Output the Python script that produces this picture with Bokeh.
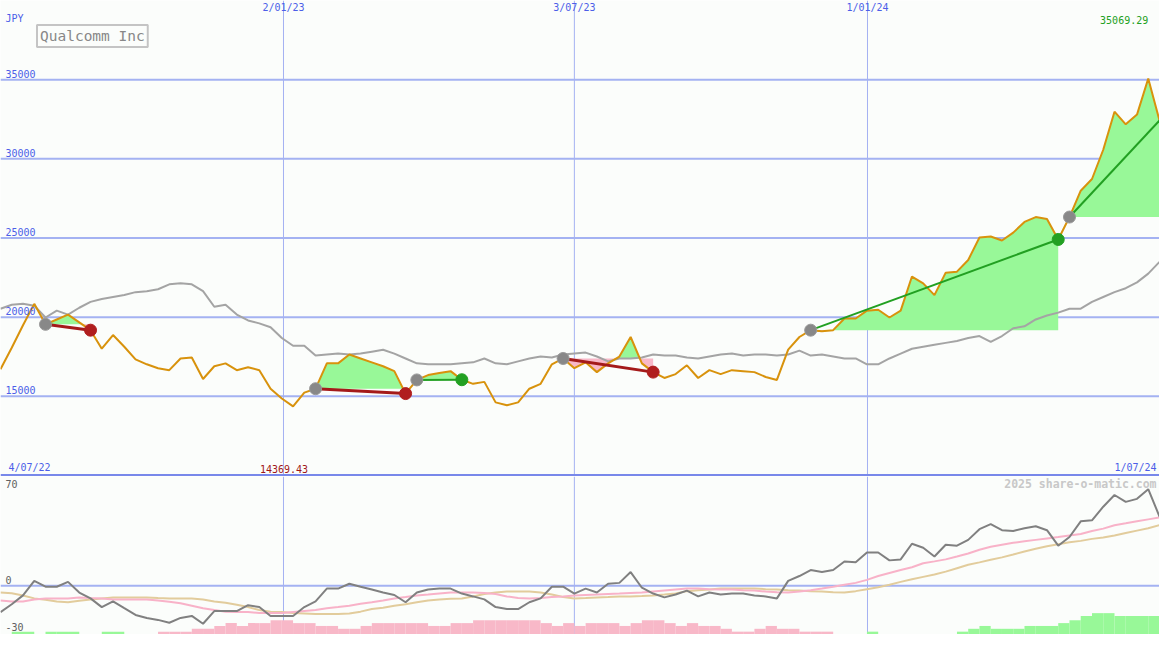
from bokeh.plotting import figure
from bokeh.models import Range1d, Span, Label
from bokeh.layouts import column
from bokeh.embed import file_html
from bokeh.resources import INLINE

# ---------------- data ----------------
price = [16715, 18070, 19487, 20842, 19548, 19856, 20164, 19671, 19179, 18008,
         18871, 18131, 17330, 17023, 16776, 16653, 17392, 17454, 16098, 16899,
         17084, 16653, 16838, 16653, 15482, 14866, 14369.43, 15236, 15482, 17084,
         17084, 17639, 17392, 17146, 16899, 16592, 15175, 16037, 16345, 16468,
         16592, 16050, 15791, 15914, 14620, 14435, 14620, 15482, 15791, 17023,
         17392, 16776, 17146, 16530, 17084, 17515, 18748, 17084, 16530, 16160,
         16407, 16961, 16160, 16653, 16407, 16653, 16592, 16530, 16222, 16037,
         17947, 18748, 19179, 19117, 19179, 19918, 19918, 20411, 20472, 19980,
         20411, 22567, 22136, 21396, 22813, 22875, 23614, 25031, 25092, 24846,
         25339, 26016, 26324, 26201, 24908, 26324, 27988, 28727, 30575, 32977,
         32177, 32793, 35069.29, 32423]

bench = [20534, 20781, 20842, 20719, 19980, 20411, 20164, 20596, 20965, 21150,
         21273, 21396, 21581, 21643, 21766, 22074, 22136, 22074, 21643, 20657,
         20781, 20164, 19795, 19610, 19364, 18686, 18193, 18193, 17577, 17639,
         17700, 17639, 17700, 17823, 17947, 17700, 17392, 17084, 17023, 17023,
         17023, 17084, 17146, 17392, 17084, 17023, 17207, 17392, 17515, 17454,
         17639, 17700, 17762, 17515, 17207, 17392, 17392, 17454, 17639, 17577,
         17577, 17454, 17392, 17515, 17639, 17700, 17577, 17639, 17639, 17577,
         17639, 17885, 17577, 17639, 17515, 17392, 17392, 17023, 17023, 17392,
         17700, 18008, 18131, 18254, 18378, 18501, 18686, 18809, 18439, 18809,
         19302, 19425, 19856, 20102, 20287, 20534, 20534, 20965, 21273, 21581,
         21828, 22197, 22752, 23491]

osc = [-18.5, -13, -6.8, 3.4, -0.7, -0.7, 2.7, -4.8, -8.9, -15,
       -11, -15.8, -20.5, -22.6, -24, -26, -22.6, -21.2, -26.7, -17.8,
       -17.8, -17.8, -13.7, -15, -21.2, -21.2, -21.2, -15, -11, -2,
       -2, 1.4, -0.7, -2.7, -4.8, -6.5, -11.6, -4.8, -2.7, -2,
       -2, -5.5, -7.5, -9.6, -15, -16.4, -16.4, -11.6, -8.9, -0.7,
       -0.7, -5.5, -2, -4.8, 1.4, 2, 9.6, -1.4, -5.5, -8.2,
       -6.2, -3.4, -7.5, -4.8, -6.2, -5.5, -5.5, -6.8, -7.5, -8.9,
       3.4, 6.8, 11, 9.6, 11, 17, 16.4, 23.3, 23.3, 17.8,
       18.5, 29.5, 26.7, 20.5, 28.8, 28.1, 32.2, 39.7, 43.2, 39,
       38.4, 40.4, 41.8, 39, 28.1, 34.2, 45.2, 45.9, 55.5, 63.7,
       58.9, 61, 67.8, 48.6]

sig_pink = [-10.3, -11, -11, -9.6, -8.9, -8.9, -8.9, -8.2, -8.6, -8.9,
            -9.6, -9.6, -9.6, -9.6, -10.3, -11.3, -12.3, -14, -15.8, -17.1,
            -18.2, -18.5, -18.5, -19.2, -19.2, -19.2, -18.5, -17.8, -17.1, -15.8,
            -15, -14, -12.7, -11.6, -10.3, -8.9, -7.9, -6.8, -6.2, -5.5,
            -4.8, -4.8, -4.8, -5.1, -5.8, -7.5, -8.6, -8.9, -8.6, -7.9,
            -7.5, -6.8, -6.5, -6.2, -5.8, -5.5, -5.1, -4.8, -4.1, -3.4,
            -2.7, -2, -2, -2.4, -2.7, -2.7, -3.1, -3.4, -4.1, -4.5,
            -4.8, -4.1, -3.1, -2, -0.7, 0.7, 2, 4.1, 6.8, 8.9,
            11, 13, 15.8, 17.1, 18.5, 20.5, 22.6, 25.3, 27.4, 28.8,
            30.1, 31.2, 32.2, 33.2, 34.2, 35.3, 36.3, 38.4, 40.1, 42.5,
            43.8, 45.2, 46.6, 47.9]

sig_tan = [-4.8, -5.3, -6.8, -8.9, -9.9, -11, -11.6, -10.6, -9.6, -8.9,
           -8.2, -8.2, -8.2, -8.2, -8.6, -8.9, -8.9, -8.9, -9.6, -11,
           -12, -13.4, -15, -17.1, -18.2, -18.5, -19.2, -19.5, -19.9, -19.9,
           -19.9, -19.5, -18.2, -16.4, -15.4, -14, -13, -11.6, -10.3, -9.6,
           -9.2, -8.9, -7.5, -5.8, -4.8, -4.1, -4.1, -4.1, -4.8, -6.2,
           -7.9, -8.9, -8.6, -8.2, -7.9, -7.5, -7.5, -7.2, -6.8, -6.2,
           -5.5, -3.8, -3.1, -2.7, -2, -2, -2, -2, -2.4, -2.7,
           -3.1, -3.4, -3.8, -4.1, -4.5, -4.8, -3.8, -2.4, -1, 0.7,
           2.7, 4.5, 6.2, 7.9, 9.9, 12.3, 14.7, 16.4, 18.2, 19.9,
           21.9, 24, 26, 27.7, 29.1, 30.5, 31.5, 32.9, 33.9, 35.3,
           37, 38.7, 40.4, 42.5]

hist = [0, 2, 2, 0, 2, 2, 2, 0, 0, 2,
        2, 0, 0, 0, -2, -2, -2, -4, -4, -6,
        -8, -6, -8, -8, -10, -10, -8, -8, -6, -6,
        -4, -4, -6, -8, -8, -8, -8, -8, -6, -6,
        -8, -8, -10, -10, -10, -10, -10, -10, -8, -6,
        -8, -6, -8, -8, -8, -6, -8, -10, -10, -8,
        -6, -8, -6, -6, -4, -2, -2, -4, -6, -4,
        -4, -2, -2, -2, 0, 0, 0, 2, 0, 0,
        0, 0, 0, 0, 0, 2, 4, 6, 4, 4,
        4, 6, 6, 6, 8, 10, 13, 15, 15, 13,
        13, 13, 13, 0]

# trades: (entry index, exit index, kind)
trades = [(4, 8, "loss"), (28, 36, "loss"), (37, 41, "win"),
          (50, 58, "loss"), (72, 94, "win"), (95, 103, "open")]

price_ticks = [15000, 20000, 25000, 30000, 35000]
osc_ticks = [70, 0, -30]
date_ticks = [25.15, 51.0, 77.05]
date_labels = ["2/01/23", "3/07/23", "1/01/24"]
start_label = "4/07/22"
end_label = "1/07/24"
title = "Qualcomm Inc"
currency = "JPY"
credit = "2025 share-o-matic.com"

# ---------------- style ----------------
BG = "#fbfdfb"
GRID = "#a4b2f2"
BORDER = "#7888ea"
BLUE = "#4c5ee8"
ORANGE = "#d8920c"
GREY = "#a4a4a4"
GREEN_FILL = "#98f898"
PINK_FILL = "#f8b8c8"
FONT = "DejaVu Sans Mono"

W = 1159
H1 = 476
H2 = 158
SX = W / 1175.0
SY = 634 / 650.0
n = len(price)
xs = list(range(n))

# ---------------- top panel ----------------
p1 = figure(width=W, height=H1, x_range=Range1d(0, n - 1), y_range=Range1d(9938, 40000),
            output_backend="svg", toolbar_location=None, min_border=0,
            background_fill_color=BG, border_fill_color=BG, outline_line_color=None,
            x_axis_location=None, y_axis_location=None)
p1.grid.visible = False

for v in price_ticks:
    p1.add_layout(Span(location=v, dimension="width", line_color=GRID, line_width=2, level="underlay"))
for t in date_ticks:
    p1.add_layout(Span(location=t, dimension="height", line_color=GRID, line_width=1, level="underlay"))
p1.add_layout(Span(location=10000, dimension="width", line_color=BORDER, line_width=3))


def split_fill(s, e, level):
    fx, up, dn = [], [], []
    for i in range(s, e):
        y0, y1 = price[i], price[i + 1]
        fx.append(i); up.append(max(y0, level)); dn.append(min(y0, level))
        if (y0 - level) * (y1 - level) < 0:
            t = (level - y0) / (y1 - y0)
            fx.append(i + t); up.append(level); dn.append(level)
    fx.append(e); up.append(max(price[e], level)); dn.append(min(price[e], level))
    return fx, up, dn


for s, e, kind in trades:
    lvl = price[s]
    fx, up, dn = split_fill(s, e, lvl)
    p1.varea(x=fx, y1=[lvl] * len(fx), y2=up, fill_color=GREEN_FILL, fill_alpha=1)
    p1.varea(x=fx, y1=dn, y2=[lvl] * len(fx), fill_color=PINK_FILL, fill_alpha=1)

p1.line(xs, bench, line_color=GREY, line_width=2)
p1.line(xs, price, line_color=ORANGE, line_width=2)

for s, e, kind in trades:
    if kind == "loss":
        lc, lw, dc = "#a41a1a", 3, "#b01e1e"
    else:
        lc, lw, dc = "#22a022", 2, "#22a022"
    p1.line([s, e], [price[s], price[e]], line_color=lc, line_width=lw)
    p1.scatter([s], [price[s]], size=12, fill_color="#888888", line_color="#999999", line_width=1)
    if kind != "open":
        p1.scatter([e], [price[e]], size=12, fill_color=dc, line_color=dc, line_width=1)

lab = dict(text_font=FONT, text_font_size="10px", text_color=BLUE)
p1.add_layout(Label(x=5 * SX, y=H1 - 18 * SY, x_units="screen", y_units="screen",
                    text=currency, text_baseline="middle", **lab))
for v in price_ticks:
    p1.add_layout(Label(x=5 * SX, y=v, x_units="screen", y_offset=2, text=str(v),
                        text_baseline="bottom", **lab))
for t, s in zip(date_ticks, date_labels):
    p1.add_layout(Label(x=t, y=H1 - 2 * SY, y_units="screen", text=s, text_align="center",
                        text_baseline="top", **lab))
p1.add_layout(Label(x=8 * SX, y=10000, x_units="screen", y_offset=3, text=start_label,
                    text_baseline="bottom", **lab))
p1.add_layout(Label(x=1172 * SX, y=10000, x_units="screen", y_offset=3, text=end_label,
                    text_align="right", text_baseline="bottom", **lab))

imin = price.index(min(price))
imax = price.index(max(price))
p1.add_layout(Label(x=imin, y=10000, x_offset=-9, y_offset=3, text=f"{min(price):.2f}",
                    text_align="center", text_baseline="bottom", text_font=FONT,
                    text_font_size="10px", text_color="#a01818"))
p1.add_layout(Label(x=imax, y=H1 - 16 * SY, y_units="screen", text=f"{max(price):.2f}",
                    text_align="right", text_baseline="top", text_font=FONT,
                    text_font_size="10px", text_color="#22a022"))

p1.add_layout(Label(x=37 * SX, y=H1 - 36.5 * SY, x_units="screen", y_units="screen",
                    text=title, text_baseline="middle", text_font=FONT, text_font_size="14.5px",
                    text_color="#888888", border_line_color="#c4c4c4", border_line_width=2,
                    background_fill_color=BG, padding=3))

# ---------------- bottom panel ----------------
ylo, yhi = -34.25, 76.7
p2 = figure(width=W, height=H2, x_range=p1.x_range, y_range=Range1d(ylo, yhi),
            output_backend="svg", toolbar_location=None, min_border=0,
            background_fill_color=BG, border_fill_color=BG, outline_line_color=None,
            x_axis_location=None, y_axis_location=None)
p2.grid.visible = False
p2.add_layout(Span(location=0, dimension="width", line_color=GRID, line_width=2, level="underlay"))
for t in date_ticks:
    p2.add_layout(Span(location=t, dimension="height", line_color=GRID, line_width=1, level="underlay"))

hx = [i + 0.5 for i, h in enumerate(hist) if h != 0]
htop = [ylo + abs(h) for h in hist if h != 0]
hcol = [GREEN_FILL if h > 0 else PINK_FILL for h in hist if h != 0]
p2.vbar(x=hx, width=1.0, bottom=ylo, top=htop, fill_color=hcol, line_color=None)

p2.line(xs, sig_tan, line_color="#e2cc9c", line_width=2)
p2.line(xs, sig_pink, line_color="#f8b2c8", line_width=2)
p2.line(xs, osc, line_color="#808080", line_width=2)

glab = dict(text_font=FONT, text_font_size="10px", text_color="#606060")
p2.add_layout(Label(x=5 * SX, y=H2 - 8 * SY, x_units="screen", y_units="screen",
                    text=str(osc_ticks[0]), text_baseline="middle", **glab))
p2.add_layout(Label(x=5 * SX, y=osc_ticks[1], x_units="screen", y_offset=2,
                    text=str(osc_ticks[1]), text_baseline="bottom", **glab))
p2.add_layout(Label(x=5 * SX, y=H2 - 154 * SY, x_units="screen", y_units="screen",
                    text=str(osc_ticks[2]), text_baseline="middle", **glab))
p2.add_layout(Label(x=1172 * SX, y=H2 - 8 * SY, x_units="screen", y_units="screen",
                    text=credit, text_align="right", text_baseline="middle", text_font=FONT,
                    text_font_size="11.5px", text_font_style="bold", text_color="#c8c8c8"))

layout = column(p1, p2, spacing=0)
open("out.html", "w").write(file_html(layout, INLINE))
